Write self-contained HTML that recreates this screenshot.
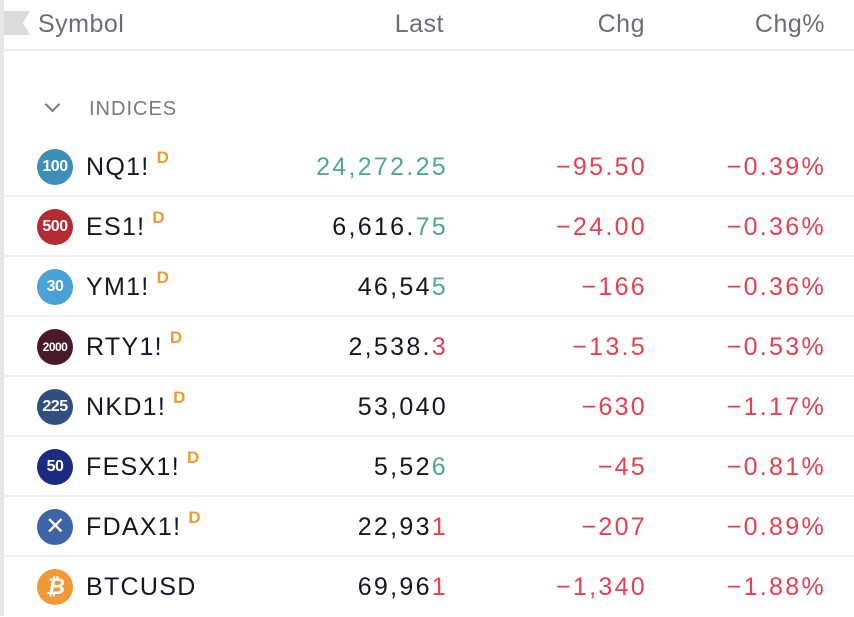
<!DOCTYPE html>
<html><head><meta charset="utf-8"><style>
body{margin:0;width:854px;height:616px;overflow:hidden;background:#fff;font-family:"Liberation Sans",sans-serif;position:relative}
.strip{position:absolute;left:0;top:0;width:4px;height:616px;background:#e8e8e8}
.flag{position:absolute;left:4px;top:11px;width:26px;height:24px;background:#dadcdc;clip-path:polygon(0 0,100% 0,72% 50%,100% 100%,0 100%)}
.h{position:absolute;top:10px;font-size:25px;color:#6b6e76;letter-spacing:0.5px}
.hl{position:absolute;left:4px;right:0;top:49px;height:2px;background:#ececec}
.sec{position:absolute;left:89px;top:98px;font-size:20px;color:#777a82;letter-spacing:1px}
.chev{position:absolute;left:47px;top:99px;width:9px;height:9px;border-right:2px solid #777;border-bottom:2px solid #777;transform:rotate(45deg)}
.row{position:absolute;left:4px;right:0;height:60px}
.row .sep{position:absolute;left:0;right:0;bottom:0;height:2px;background:#efefef}
.ic{position:absolute;left:33px;top:12px;width:36px;height:36px;border-radius:50%;color:#fff;font-weight:bold;font-size:16px;text-align:center;line-height:36px;letter-spacing:-0.5px}
.sym{position:absolute;left:82px;top:16px;font-size:25px;color:#131722;letter-spacing:1.3px}
.sym sup{color:#f09a30;font-size:17px;font-weight:bold;position:relative;top:-5px;margin-left:7px;vertical-align:top}
.n{position:absolute;top:16px;font-size:25px;letter-spacing:2.3px;text-align:right;color:#131722}
.c1{right:406px}.c2{right:207px}.c3{right:28px}
.g{color:#4fa891}.r{color:#e5414f}
</style></head><body>
<div class="strip"></div><div class="flag"></div>
<div class="h" style="left:38px">Symbol</div>
<div class="h" style="right:410px">Last</div>
<div class="h" style="right:209px">Chg</div>
<div class="h" style="right:29px">Chg%</div>
<div class="hl"></div>
<div class="chev"></div><div class="sec">INDICES</div>

<div class="row" style="top:137px"><div class="ic" style="background:#3d8fb8">100</div><div class="sym">NQ1!<sup>D</sup></div><div class="n c1 g">24,272.25</div><div class="n c2 r">−95.50</div><div class="n c3 r">−0.39%</div><div class="sep"></div></div>
<div class="row" style="top:197px"><div class="ic" style="background:#b52a33">500</div><div class="sym">ES1!<sup>D</sup></div><div class="n c1">6,616.<span class="g">75</span></div><div class="n c2 r">−24.00</div><div class="n c3 r">−0.36%</div><div class="sep"></div></div>
<div class="row" style="top:257px"><div class="ic" style="background:#4aa1d6">30</div><div class="sym">YM1!<sup>D</sup></div><div class="n c1">46,54<span class="g">5</span></div><div class="n c2 r">−166</div><div class="n c3 r">−0.36%</div><div class="sep"></div></div>
<div class="row" style="top:317px"><div class="ic" style="background:#4a1a2c;font-size:12px">2000</div><div class="sym">RTY1!<sup>D</sup></div><div class="n c1">2,538.<span class="r">3</span></div><div class="n c2 r">−13.5</div><div class="n c3 r">−0.53%</div><div class="sep"></div></div>
<div class="row" style="top:377px"><div class="ic" style="background:#2e4f80">225</div><div class="sym">NKD1!<sup>D</sup></div><div class="n c1">53,040</div><div class="n c2 r">−630</div><div class="n c3 r">−1.17%</div><div class="sep"></div></div>
<div class="row" style="top:437px"><div class="ic" style="background:#1c2a80">50</div><div class="sym">FESX1!<sup>D</sup></div><div class="n c1">5,52<span class="g">6</span></div><div class="n c2 r">−45</div><div class="n c3 r">−0.81%</div><div class="sep"></div></div>
<div class="row" style="top:497px"><div class="ic" style="background:#3c64a6;font-size:24px;font-weight:normal">✕</div><div class="sym">FDAX1!<sup>D</sup></div><div class="n c1">22,93<span class="r">1</span></div><div class="n c2 r">−207</div><div class="n c3 r">−0.89%</div><div class="sep"></div></div>
<div class="row" style="top:557px"><div class="ic" style="background:#f09a37;font-size:22px;font-style:italic">₿</div><div class="sym">BTCUSD</div><div class="n c1">69,96<span class="r">1</span></div><div class="n c2 r">−1,340</div><div class="n c3 r">−1.88%</div></div>
</body></html>
